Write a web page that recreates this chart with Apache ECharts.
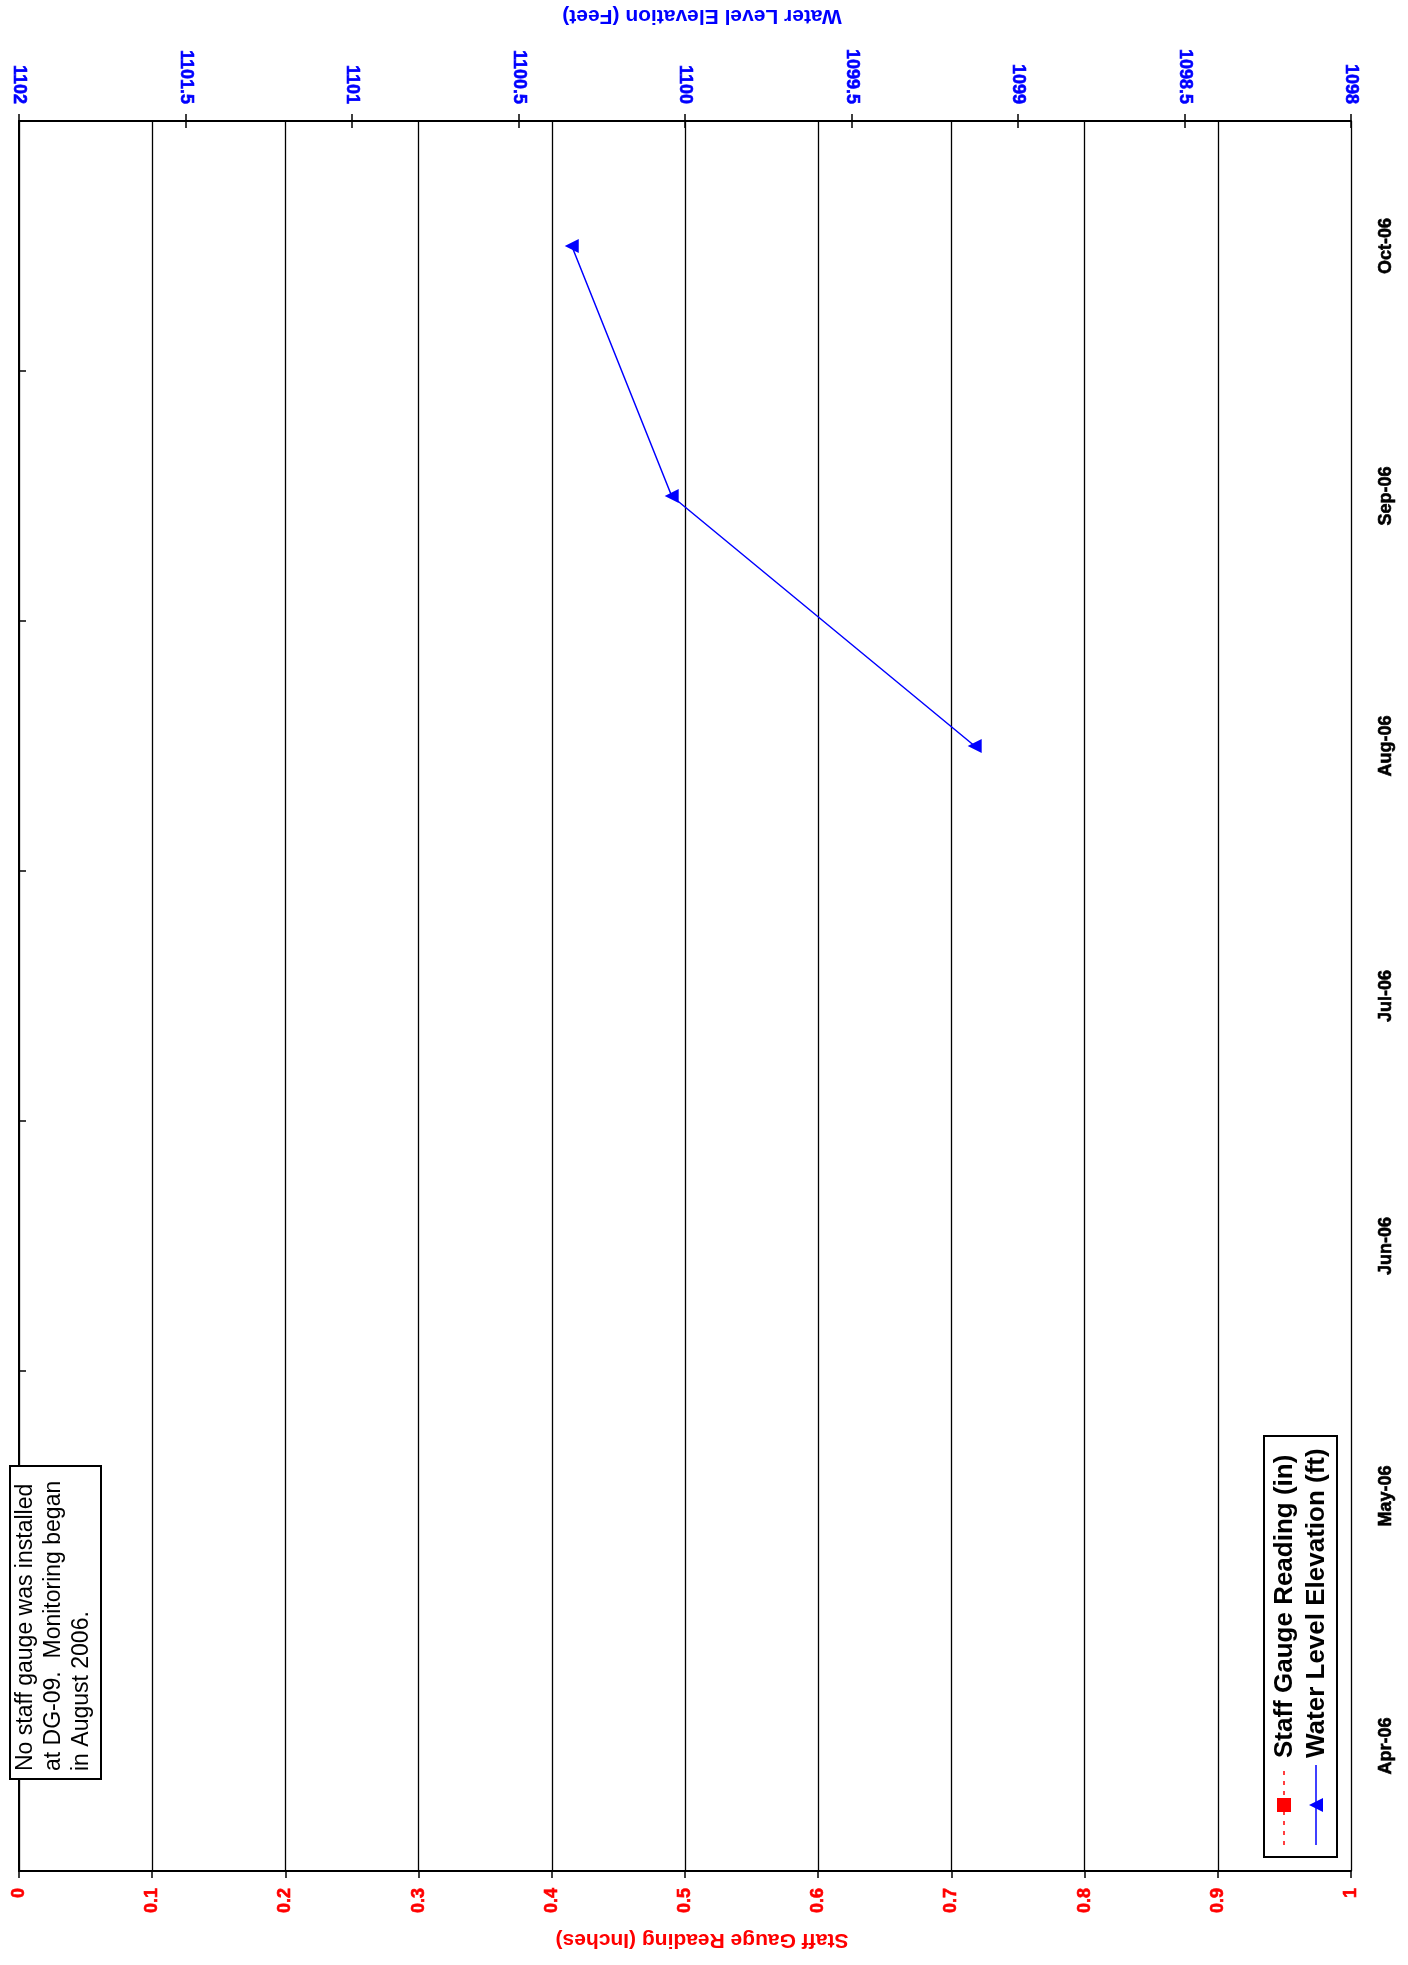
<!DOCTYPE html>
<html>
<head>
<meta charset="utf-8">
<script src="https://cdn.jsdelivr.net/npm/echarts@6/dist/echarts.min.js"></script>
<style>
html,body{margin:0;padding:0;background:#fff;}
#chart{width:1408px;height:1965px;}
</style>
</head>
<body>
<div id="chart"></div>
<script>
// ---- data ----
const dateCategories = ['Apr-06', 'May-06', 'Jun-06', 'Jul-06', 'Aug-06', 'Sep-06', 'Oct-06'];
const waterDates = ['Aug-06', 'Sep-06', 'Oct-06'];
const waterLevel = [1099.13, 1100.04, 1100.34];
const staffDates = [];
const staffGauge = [];
const seriesNames = ['Staff Gauge Reading (in)', 'Water Level Elevation (ft)'];
const axisTitles = ['Staff Gauge Reading (Inches)', 'Water Level Elevation (Feet)'];
const noteLines = ['No staff gauge was installed', 'at DG-09.  Monitoring began', 'in August 2006.'];

const FONT = '"Liberation Sans", Arial, sans-serif';
const chart = echarts.init(document.getElementById('chart'), null, {renderer: 'canvas'});

const Z = 100;
const legendGroup = {
  type: 'group', x: 1264, y: 1857, rotation: Math.PI / 2, silent: true, z: Z,
  children: [
    {type: 'rect', z: Z, shape: {x: 0, y: 0, width: 421, height: 73}, style: {fill: '#fff', stroke: '#000', lineWidth: 2}},
    {type: 'line', z: Z + 1, shape: {x1: 12, y1: 20, x2: 92, y2: 20}, style: {stroke: '#ff0000', lineWidth: 1.5, lineDash: [4, 6]}},
    {type: 'rect', z: Z + 2, shape: {x: 45, y: 13, width: 14, height: 14}, style: {fill: '#ff0000'}},
    {type: 'text', z: Z + 1, style: {text: seriesNames[0], x: 99, y: 21, font: 'bold 26px ' + FONT, fill: '#000', verticalAlign: 'middle'}},
    {type: 'line', z: Z + 1, shape: {x1: 12, y1: 52, x2: 92, y2: 52}, style: {stroke: '#0000ff', lineWidth: 1.5}},
    {type: 'polygon', z: Z + 2, shape: {points: [[52, 45], [59, 59], [45, 59]]}, style: {fill: '#0000ff'}},
    {type: 'text', z: Z + 1, style: {text: seriesNames[1], x: 99, y: 53, font: 'bold 26px ' + FONT, fill: '#000', verticalAlign: 'middle'}}
  ]
};

const noteGroup = {
  type: 'group', x: 10, y: 1779, rotation: Math.PI / 2, silent: true, z: Z,
  children: [
    {type: 'rect', z: Z, shape: {x: 0, y: 0, width: 313, height: 91}, style: {fill: '#fff', stroke: '#000', lineWidth: 2}}
  ].concat(noteLines.map((t, i) => ({
    type: 'text', z: Z + 1, style: {text: t, x: 8, y: 16 + i * 28, font: '23px ' + FONT, fill: '#000', verticalAlign: 'middle'}
  })))
};

const labelBase = {fontWeight: 'bold', fontSize: 18, fontFamily: FONT, textBorderWidth: 0.6};

const option = {
  animation: false,
  backgroundColor: '#fff',
  grid: {left: 19, right: 57, top: 120, bottom: 94, containLabel: false},
  xAxis: [
    {
      type: 'value', position: 'bottom', min: 0, max: 1, interval: 0.1,
      name: axisTitles[0], nameLocation: 'middle', nameGap: 58, nameRotate: 180,
      nameTextStyle: {color: '#ff0000', fontWeight: 'bold', fontSize: 21, fontFamily: FONT, padding: [0, 34, 0, 0]},
      axisLine: {show: true, lineStyle: {color: '#000', width: 2}},
      axisTick: {show: true, inside: false, length: 7, lineStyle: {color: '#000', width: 1.5}},
      axisLabel: Object.assign({rotate: 90, margin: 17, color: '#ff0000', textBorderColor: '#ff0000',
        showMinLabel: true, showMaxLabel: true, formatter: v => String(+v.toFixed(1))}, labelBase),
      splitLine: {show: true, lineStyle: {color: '#000', width: 1.3}}
    },
    {
      type: 'value', position: 'top', min: 1098, max: 1102, interval: 0.5, inverse: true,
      name: axisTitles[1], nameLocation: 'middle', nameGap: 95, nameRotate: 180,
      nameTextStyle: {color: '#0000ff', fontWeight: 'bold', fontSize: 21, fontFamily: FONT, padding: [0, 34, 0, 0]},
      axisLine: {show: true, lineStyle: {color: '#000', width: 2}},
      axisTick: {show: true, inside: false, length: 7, lineStyle: {color: '#000', width: 1.5}},
      axisLabel: Object.assign({rotate: 90, margin: 17, color: '#0000ff', textBorderColor: '#0000ff',
        showMinLabel: true, showMaxLabel: true, formatter: v => String(+v.toFixed(1))}, labelBase),
      splitLine: {show: false}
    },
    {
      type: 'value', position: 'top', min: 1098, max: 1102, interval: 0.5, inverse: true,
      axisLine: {show: false},
      axisTick: {show: true, inside: true, length: 7, lineStyle: {color: '#000', width: 1.5}},
      axisLabel: {show: false},
      splitLine: {show: false}
    }
  ],
  yAxis: [
    {
      type: 'category', position: 'right', data: dateCategories, boundaryGap: true,
      axisLine: {show: true, lineStyle: {color: '#000', width: 2}},
      axisTick: {show: true, inside: false, length: 7, lineStyle: {color: '#000', width: 1.5}},
      axisLabel: Object.assign({rotate: 90, margin: 26, color: '#000', textBorderColor: '#000'}, labelBase),
      splitLine: {show: false}
    }
  ],
  series: [
    {
      name: seriesNames[0], type: 'line', xAxisIndex: 0, yAxisIndex: 0,
      data: staffDates.map((d, i) => [staffGauge[i], d]),
      symbol: 'rect', symbolSize: 10,
      lineStyle: {color: '#ff0000', width: 1.5, type: 'dashed'},
      itemStyle: {color: '#ff0000'}
    },
    {
      name: seriesNames[1], type: 'line', xAxisIndex: 1, yAxisIndex: 0,
      data: waterDates.map((d, i) => [waterLevel[i], d]),
      symbol: 'triangle', symbolSize: 14, symbolRotate: 90,
      lineStyle: {color: '#0000ff', width: 1.5},
      itemStyle: {color: '#0000ff'}
    }
  ],
  graphic: [legendGroup, noteGroup]
};
chart.setOption(option);
</script>
</body>
</html>
